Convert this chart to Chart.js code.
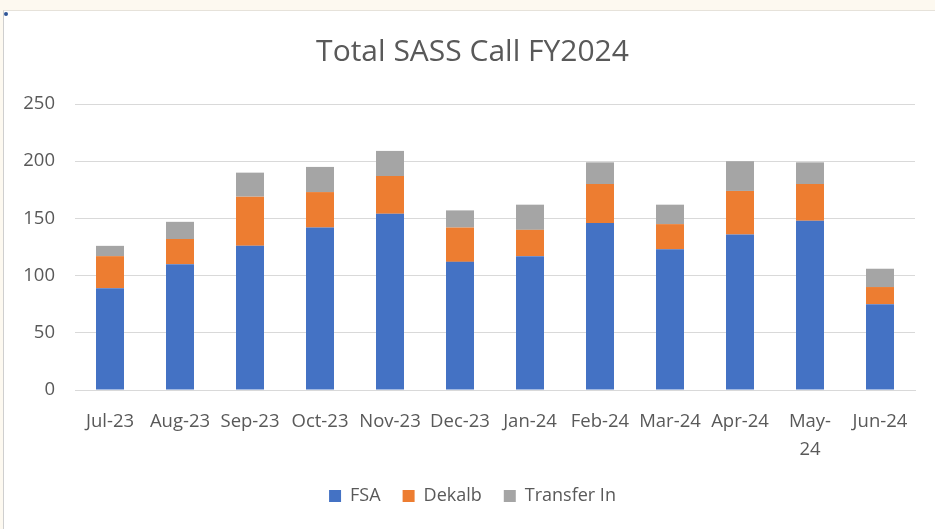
<!DOCTYPE html>
<html>
<head>
<meta charset="utf-8">
<script src="https://cdn.jsdelivr.net/npm/chart.js@4/dist/chart.umd.min.js"></script>
<style>
  html, body { margin:0; padding:0; }
  body { width:935px; height:529px; background:#fdf9f0; position:relative; overflow:hidden; }
  #frame { position:absolute; left:3px; top:10px; right:0; bottom:0; background:#fff;
           border-left:1px solid #cfcfcf; border-top:1px solid #e6e2da; }
  #dot { position:absolute; left:4px; top:12px; width:4px; height:4px; border-radius:50%; background:#2f5597; }
  #wrap { position:absolute; left:0; top:0; width:935px; height:529px; }
</style>
</head>
<body>
<div id="frame"></div>
<div id="dot"></div>
<div id="wrap"><canvas id="c" width="935" height="529"></canvas></div>
<script>
// chart data
const months = ["Jul-23","Aug-23","Sep-23","Oct-23","Nov-23","Dec-23","Jan-24","Feb-24","Mar-24","Apr-24","May-24","Jun-24"];
const fsa      = [89, 110, 126, 142, 154, 112, 117, 146, 123, 136, 148, 75];
const dekalb   = [28,  22,  43,  31,  33,  30,  23,  34,  22,  38,  32, 15];
const transfer = [ 9,  15,  21,  22,  22,  15,  22,  19,  17,  26,  19, 16];
const yTicks = [0, 50, 100, 150, 200, 250];

const txt = '#595959';
const fam = '"Open Sans", "Noto Sans", sans-serif';

const ctx = document.getElementById("c").getContext("2d");
new Chart(ctx, {
  type: 'bar',
  data: {
    labels: months,
    datasets: [
      { label:'FSA', data:fsa, backgroundColor:'#4472C4' },
      { label:'Dekalb', data:dekalb, backgroundColor:'#ED7D31' },
      { label:'Transfer In', data:transfer, backgroundColor:'#A5A5A5' }
    ]
  },
  options: {
    responsive:false,
    animation:false,
    // left padding shifts the centre of title/legend toward the reference
    layout:{ padding:{ left:30, right:20, top:0, bottom:14 } },
    datasets:{ bar:{ categoryPercentage:1, barPercentage:0.4 } },
    plugins:{
      title:{ display:true, text:'Total SASS Call FY2024', color:txt,
              font:{ family:fam, size:30, weight:'normal' }, padding:{ top:34, bottom:34 } },
      legend:{ position:'bottom',
               labels:{ color:txt, boxWidth:12, boxHeight:12, padding:22,
                        font:{ family:fam, size:18 } } },
      tooltip:{ enabled:false }
    },
    scales:{
      x:{ stacked:true,
          grid:{ display:false, drawTicks:false },
          border:{ display:true, color:'#d9d9d9' },
          ticks:{ color:txt, font:{ family:fam, size:18.5, lineHeight:1.5 }, padding:18, maxRotation:0, autoSkip:false,
                  callback(v){ const l = months[v]; return l === 'May-24' ? ['May-','24'] : l; } },
          afterFit(s){ s.height = 75; } },
      y:{ stacked:true, min:0, max:250,
          afterBuildTicks(s){ s.ticks = yTicks.map(v=>({value:v})); },
          grid:{ color:'#d9d9d9', drawTicks:false },
          border:{ display:false },
          ticks:{ color:txt, font:{ family:fam, size:18.5 }, padding:20 },
          afterFit(s){
            s.width = 45;
            // labels reach into the layout padding, so don't clip them to the axis box
            s._computeLabelArea = () => null;
          } }
    }
  }
});
</script>
</body>
</html>
